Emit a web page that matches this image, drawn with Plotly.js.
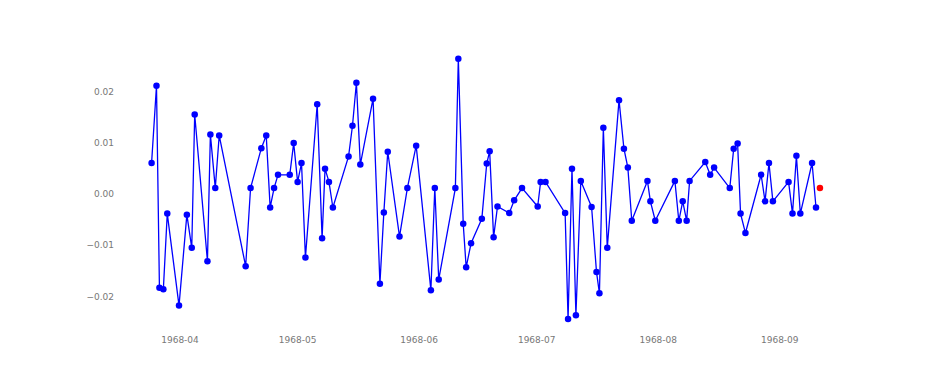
<!DOCTYPE html>
<html>
<head>
<meta charset="utf-8">
<script src="https://cdn.plot.ly/plotly-3.0.1.min.js"></script>
<style>html,body{margin:0;padding:0;background:#fff;}#chart{width:948px;height:379px;}</style>
</head>
<body>
<div id="chart"></div>
<script>
// Observed series (dates, values)
const dates = [
  "1968-03-24 18:00","1968-03-26 00:00","1968-03-26 18:00","1968-03-27 18:00","1968-03-28 18:00",
  "1968-03-31 18:00","1968-04-02 18:00","1968-04-04 00:00","1968-04-04 18:00","1968-04-08 00:00",
  "1968-04-08 18:00","1968-04-10 00:00","1968-04-11 00:00","1968-04-17 18:00","1968-04-19 00:00",
  "1968-04-21 18:00","1968-04-23 00:00","1968-04-24 00:00","1968-04-25 00:00","1968-04-26 00:00",
  "1968-04-29 00:00","1968-04-30 00:00","1968-05-01 00:00","1968-05-02 00:00","1968-05-03 00:00",
  "1968-05-06 00:00","1968-05-07 06:00","1968-05-08 00:00","1968-05-09 00:00","1968-05-10 00:00",
  "1968-05-14 00:00","1968-05-15 00:00","1968-05-16 00:00","1968-05-17 00:00","1968-05-20 06:00",
  "1968-05-22 00:00","1968-05-23 00:00","1968-05-24 00:00","1968-05-27 00:00","1968-05-29 00:00",
  "1968-05-31 06:00","1968-06-04 00:00","1968-06-05 00:00","1968-06-06 00:00","1968-06-10 06:00",
  "1968-06-11 00:00","1968-06-12 06:00","1968-06-13 00:00","1968-06-14 06:00","1968-06-17 00:00",
  "1968-06-18 06:00","1968-06-19 00:00","1968-06-20 00:00","1968-06-21 00:00","1968-06-24 00:00",
  "1968-06-25 06:00","1968-06-27 06:00","1968-07-01 06:00","1968-07-02 00:00","1968-07-03 06:00",
  "1968-07-08 06:00","1968-07-09 00:00","1968-07-10 00:00","1968-07-11 00:00","1968-07-12 06:00",
  "1968-07-15 00:00","1968-07-16 06:00","1968-07-17 00:00","1968-07-18 00:00","1968-07-19 00:00",
  "1968-07-22 00:00","1968-07-23 06:00","1968-07-24 06:00","1968-07-25 06:00","1968-07-29 06:00",
  "1968-07-30 00:00","1968-07-31 06:00","1968-08-05 06:00","1968-08-06 06:00","1968-08-07 06:00",
  "1968-08-08 06:00","1968-08-09 00:00","1968-08-13 00:00","1968-08-14 06:00","1968-08-15 06:00",
  "1968-08-19 06:00","1968-08-20 06:00","1968-08-21 06:00","1968-08-22 00:00","1968-08-23 06:00",
  "1968-08-27 06:00","1968-08-28 06:00","1968-08-29 06:00","1968-08-30 06:00","1968-09-03 06:00",
  "1968-09-04 06:00","1968-09-05 06:00","1968-09-06 06:00","1968-09-09 06:00","1968-09-10 06:00"
];
const values = [
  0.0061, 0.0212, -0.0183, -0.0186, -0.0038,
  -0.0218, -0.0040, -0.0105, 0.0156, -0.0131,
  0.0117, 0.0012, 0.0115, -0.0141, 0.0012,
  0.0090, 0.0115, -0.0026, 0.0012, 0.0038,
  0.0038, 0.0100, 0.0024, 0.0061, -0.0124,
  0.0176, -0.0086, 0.0050, 0.0024, -0.0026,
  0.0074, 0.0134, 0.0218, 0.0058, 0.0187,
  -0.0175, -0.0036, 0.0083, -0.0083, 0.0012,
  0.0095, -0.0188, 0.0012, -0.0167, 0.0012,
  0.0265, -0.0058, -0.0143, -0.0096, -0.0048,
  0.0060, 0.0084, -0.0084, -0.0024, -0.0037,
  -0.0012, 0.0012, -0.0024, 0.0024, 0.0024,
  -0.0037, -0.0244, 0.0050, -0.0237, 0.0026,
  -0.0025, -0.0152, -0.0194, 0.0130, -0.0105,
  0.0184, 0.0089, 0.0052, -0.0052, 0.0026,
  -0.0014, -0.0052, 0.0026, -0.0052, -0.0014,
  -0.0052, 0.0026, 0.0063, 0.0038, 0.0052,
  0.0012, 0.0089, 0.0099, -0.0038, -0.0076,
  0.0038, -0.0014, 0.0061, -0.0014, 0.0024,
  -0.0038, 0.0075, -0.0038, 0.0061, -0.0026
];
// Highlighted next point
const nextDate = ["1968-09-11 06:00"];
const nextValue = [0.0012];

const yTicks = [-0.02, -0.01, 0.00, 0.01, 0.02];

const traces = [
  {
    x: dates, y: values, type: "scatter", mode: "lines+markers",
    line: {color: "#0000ff", width: 1.3},
    marker: {color: "#0000ff", size: 6.5},
    hoverinfo: "skip"
  },
  {
    x: nextDate, y: nextValue, type: "scatter", mode: "markers",
    marker: {color: "#ff0000", size: 6.5},
    hoverinfo: "skip"
  }
];

const layout = {
  width: 948, height: 379,
  margin: {l: 115, r: 91, t: 44, b: 46, pad: 0},
  paper_bgcolor: "#ffffff", plot_bgcolor: "#ffffff",
  showlegend: false,
  font: {family: "DejaVu Sans, sans-serif", size: 9, color: "#777777"},
  xaxis: {
    type: "date",
    range: ["1968-03-15 10:00", "1968-09-20 17:00"],
    dtick: "M1", tick0: "1968-04-01",
    tickformat: "%Y-%m",
    showgrid: false, zeroline: false, showline: false, ticks: "",
    tickfont: {size: 9, color: "#777777"}
  },
  yaxis: {
    range: [-0.02716, 0.02939],
    tickvals: yTicks,
    tickformat: ".2f",
    showgrid: false, zeroline: false, showline: false, ticks: "",
    tickfont: {size: 9, color: "#777777"}
  }
};

Plotly.newPlot("chart", traces, layout, {displayModeBar: false, staticPlot: true});
</script>
</body>
</html>
